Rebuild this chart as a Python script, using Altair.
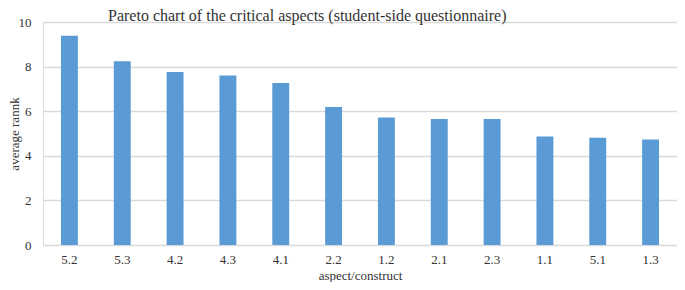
import altair as alt
import pandas as pd

aspects = ["5.2", "5.3", "4.2", "4.3", "4.1", "2.2", "1.2", "2.1", "2.3", "1.1", "5.1", "1.3"]
avg_rank = [9.38, 8.24, 7.76, 7.60, 7.27, 6.19, 5.72, 5.65, 5.65, 4.87, 4.81, 4.73]
y_ticks = [0, 2, 4, 6, 8, 10]

df = pd.DataFrame({"aspect": aspects, "rank": avg_rank})

FONT = "Liberation Serif"

chart = alt.Chart(df).mark_bar(color="#5B9BD5").encode(
    x=alt.X("aspect:N", sort=aspects,
            scale=alt.Scale(paddingInner=0.68, paddingOuter=0.34),
            axis=alt.Axis(title="aspect/construct", labelAngle=0, ticks=False, tickSize=0, domain=False,
                          labelPadding=8, labelFontSize=13, titleFontSize=13,
                          titlePadding=3, labelFont=FONT, titleFont=FONT,
                          labelColor="#333333", titleColor="#333333", titleFontWeight="normal")),
    y=alt.Y("rank:Q", scale=alt.Scale(domain=[0, 10]),
            axis=alt.Axis(title="average rannk", values=y_ticks, ticks=False, tickSize=0,
                          domain=False,
                          labelPadding=12, labelFontSize=13, titleFontSize=13,
                          labelFont=FONT, titleFont=FONT, titleX=-22,
                          labelColor="#333333", titleColor="#333333", titleFontWeight="normal",
                          gridColor="#D9D9D9", gridWidth=1.3)),
).properties(
    width=634,
    height=223,
    title=alt.TitleParams("Pareto chart of the critical aspects (student-side questionnaire)",
                          anchor="start", dx=100, offset=-8, fontSize=16, font=FONT,
                          fontWeight="normal", color="#333333"),
    autosize=alt.AutoSizeParams(type="none"),
    padding={"left": 35, "top": 14, "right": 0, "bottom": 37},
).configure_view(stroke=None).configure(font=FONT)

chart.save("out.html", embed_options={"renderer": "svg", "actions": False})
